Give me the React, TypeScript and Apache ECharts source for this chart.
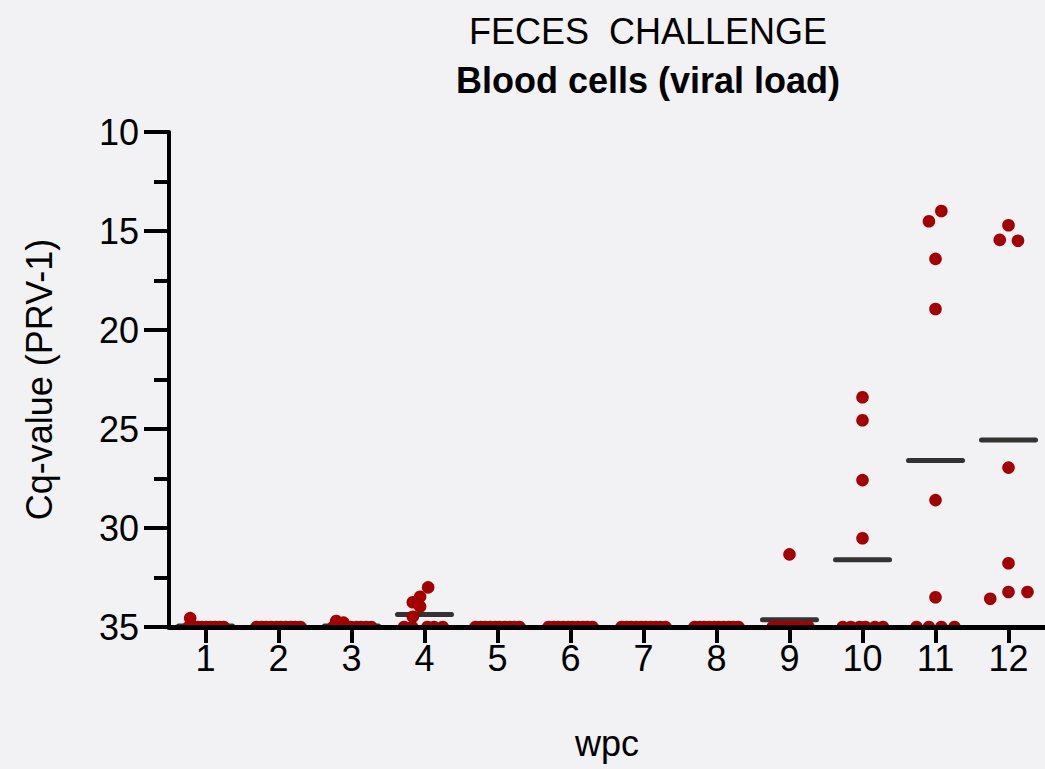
import React, { useEffect, useRef } from "react";
import * as echarts from "echarts";

const weeks = ["1", "2", "3", "4", "5", "6", "7", "8", "9", "10", "11", "12"];

// Cq values per week (35 = not detected)
const cqW1 = [34.55, 35, 35, 35, 35, 35, 35, 35, 35, 35];
const cqW2 = [35, 35, 35, 35, 35, 35, 35, 35, 35, 35];
const cqW3 = [34.7, 34.78, 35, 35, 35, 35, 35, 35, 35, 35];
const cqW4 = [33.0, 33.47, 33.75, 33.97, 34.48, 35, 35, 35, 35, 35];
const cqW5 = [35, 35, 35, 35, 35, 35, 35, 35, 35, 35];
const cqW6 = [35, 35, 35, 35, 35, 35, 35, 35, 35, 35];
const cqW7 = [35, 35, 35, 35, 35, 35, 35, 35, 35, 35];
const cqW8 = [35, 35, 35, 35, 35, 35, 35, 35, 35, 35];
const cqW9 = [31.33, 35, 35, 35, 35, 35, 35, 35, 35, 35];
const cqW10 = [23.4, 24.56, 27.58, 30.52, 35, 35, 35, 35, 35, 35];
const cqW11 = [13.99, 14.51, 16.41, 18.94, 28.59, 33.5, 35, 35, 35, 35];
const cqW12 = [14.71, 15.45, 15.49, 26.95, 31.78, 33.57, 33.23, 33.23];

// horizontal scatter (beeswarm) offsets, in category widths
const spread10 = [-0.3, -0.23, -0.17, -0.1, -0.03, 0.03, 0.1, 0.17, 0.23, 0.3];
const jitW1 = [-0.21, -0.23, -0.17, -0.11, -0.05, 0.01, 0.07, 0.13, 0.19, 0.25];
const jitW3 = [-0.21, -0.11, -0.25, -0.17, -0.09, -0.01, 0.07, 0.13, 0.2, 0.27];
const jitW4 = [0.05, -0.06, -0.16, -0.06, -0.16, -0.28, -0.17, 0.04, 0.13, 0.25];
const jitW9 = [0, -0.23, -0.17, -0.11, -0.05, 0.01, 0.08, 0.14, 0.2, 0.26];
const jitW10 = [0, 0, 0, 0, -0.27, -0.16, -0.04, 0.04, 0.17, 0.28];
const jitW11 = [0.08, -0.09, 0, 0, 0, 0, -0.26, -0.09, 0.08, 0.26];
const jitW12 = [0, -0.12, 0.13, 0, 0, -0.25, 0, 0.26];

const cqByWeek = [cqW1, cqW2, cqW3, cqW4, cqW5, cqW6, cqW7, cqW8, cqW9, cqW10, cqW11, cqW12];
const jitByWeek = [jitW1, spread10, jitW3, jitW4, spread10, spread10, spread10, spread10, jitW9, jitW10, jitW11, jitW12];

const FONT = "'Liberation Sans Narrow', 'Arial Narrow', 'Liberation Sans', Arial, sans-serif";
const RED = "#a30000";
const BG = "#f2f2f5";

export default function App() {
  const ref = useRef<HTMLDivElement>(null);

  useEffect(() => {
    if (!ref.current) return;
    const chart = echarts.init(ref.current, undefined, { renderer: "svg" });

    const points: number[][] = [];
    const means: number[][] = [];
    cqByWeek.forEach((vals, i) => {
      const jit = jitByWeek[i];
      vals.forEach((v, j) => points.push([i + 1 + jit[j], v]));
      const m = vals.reduce((a, b) => a + b, 0) / vals.length;
      means.push([i + 1, m]);
    });

    chart.setOption({
      animation: false,
      backgroundColor: BG,
      textStyle: { fontFamily: FONT },
      title: [
        {
          text: "FECES  CHALLENGE",
          left: 643,
          top: 8,
          textAlign: "center",
          textStyle: { fontFamily: FONT, fontSize: 36, fontWeight: "normal", color: "#000" },
        },
        {
          text: "Blood cells (viral load)",
          left: 643,
          top: 57,
          textAlign: "center",
          textStyle: { fontFamily: FONT, fontSize: 36, fontWeight: "bold", color: "#000" },
        },
      ],
      grid: { left: 169, top: 132, width: 879, bottom: 142, containLabel: false },
      xAxis: [
        {
          type: "category",
          data: weeks,
          boundaryGap: true,
          z: 10,
          name: "wpc",
          nameLocation: "middle",
          nameGap: 98,
          nameTextStyle: { fontFamily: FONT, fontSize: 36, color: "#000" },
          axisLine: { show: true, lineStyle: { color: "#000", width: 5 } },
          axisTick: { show: true, alignWithLabel: true, length: 16, lineStyle: { color: "#000", width: 4 } },
          axisLabel: { fontFamily: FONT, fontSize: 36, color: "#000", margin: 13 },
          splitLine: { show: false },
        },
        {
          type: "value",
          min: 0.5,
          max: 12.5,
          show: false,
        },
      ],
      yAxis: {
        type: "value",
        inverse: true,
        min: 10,
        max: 35,
        interval: 5,
        z: 10,
        name: "Cq-value (PRV-1)",
        nameLocation: "middle",
        nameGap: 112,
        nameRotate: 90,
        nameTextStyle: { fontFamily: FONT, fontSize: 36, color: "#000" },
        axisLine: { show: true, lineStyle: { color: "#000", width: 4 } },
        axisTick: { show: true, length: 25, lineStyle: { color: "#000", width: 4 } },
        minorTick: { show: true, splitNumber: 2, length: 15, lineStyle: { color: "#000", width: 4 } },
        axisLabel: { fontFamily: FONT, fontSize: 36, color: "#000", margin: 30 },
        splitLine: { show: false },
        minorSplitLine: { show: false },
      },
      series: [
        {
          type: "custom",
          xAxisIndex: 1,
          yAxisIndex: 0,
          clip: true,
          z: 2,
          data: means,
          encode: { x: 0, y: 1 },
          renderItem: (params: any, api: any) => {
            const x = api.value(0);
            const y = api.value(1);
            const a = api.coord([x - 0.37, y]);
            const b = api.coord([x + 0.37, y]);
            return {
              type: "line",
              shape: { x1: a[0], y1: a[1], x2: b[0], y2: b[1] },
              style: { stroke: "#333333", lineWidth: 5, lineCap: "round" },
            };
          },
        },
        {
          type: "custom",
          xAxisIndex: 1,
          yAxisIndex: 0,
          clip: true,
          z: 3,
          data: points,
          encode: { x: 0, y: 1 },
          renderItem: (params: any, api: any) => {
            const p = api.coord([api.value(0), api.value(1)]);
            return {
              type: "circle",
              shape: { cx: p[0], cy: p[1], r: 6.3 },
              style: { fill: RED },
            };
          },
        },
      ],
    });

    return () => chart.dispose();
  }, []);

  return (
    <div
      ref={ref}
      style={{ position: "fixed", left: 0, top: 0, width: 1045, height: 769, background: BG }}
    />
  );
}
